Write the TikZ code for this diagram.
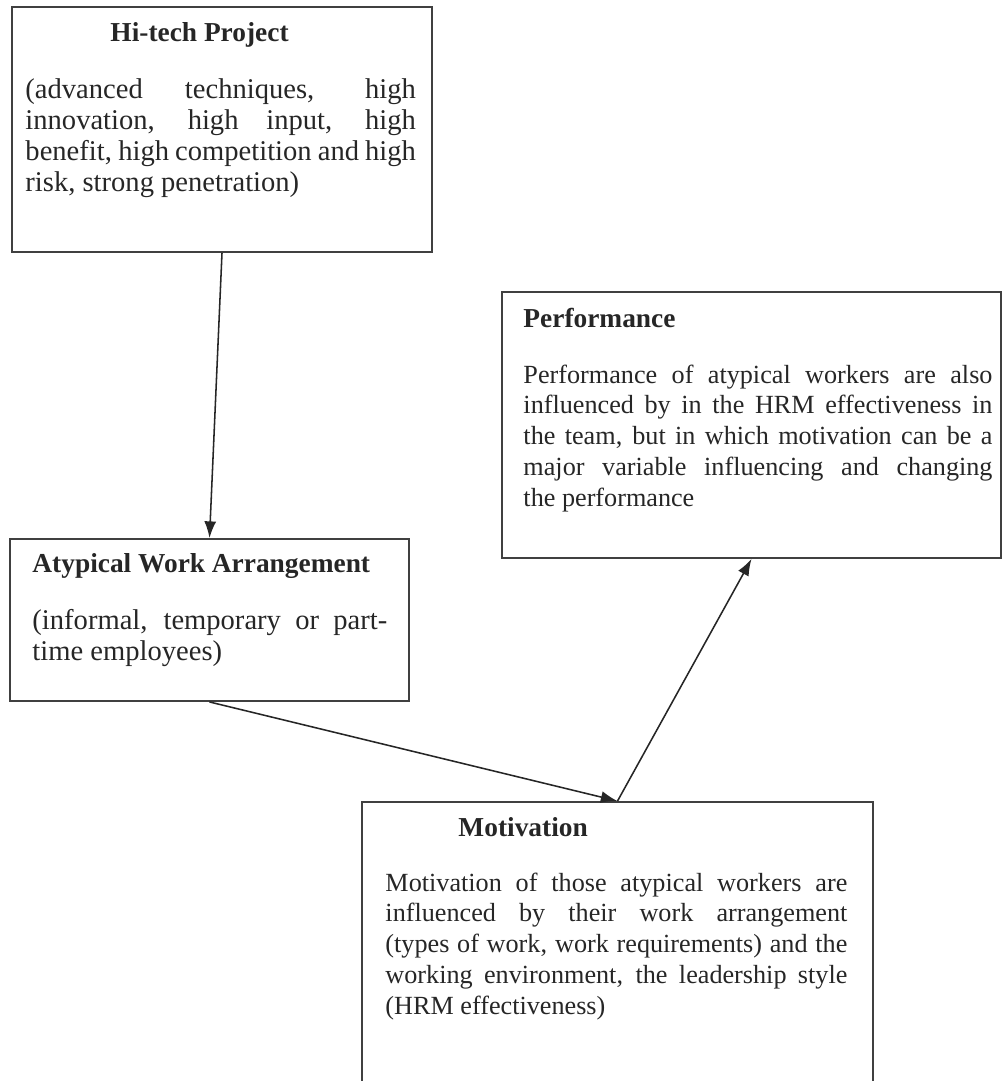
\documentclass[tikz,border=0pt]{standalone}
\usepackage{fontspec}
\setmainfont{Liberation Serif}
\usetikzlibrary{arrows.meta, fit}

\tikzset{
  box/.style={draw=black!75, line width=0.8pt, inner sep=0pt},
  head/.style={anchor=base west, inner sep=0pt, text=black!85, font=\fontsize{11.5}{13}\selectfont\bfseries},
  body/.style={anchor=base west, inner sep=0pt, text=black!85, align=justify},
  arr/.style={-{Latex[length=7pt, width=5pt]}, line width=0.65pt, black!85}
}

\begin{document}
\begin{tikzpicture}[x=0.42pt, y=-0.42pt]
\useasboundingbox (0,0) rectangle (1003,1081);
\clip (0,0) rectangle (1003,1081);
% boxes
\node[box, fit={(12,7) (432,252)}] (hitech) {};
\node[box, fit={(502,292) (1001,558)}] (perf) {};
\node[box, fit={(10,539) (409,701)}] (atyp) {};
\node[box, fit={(362,802) (873,1130)}] (motiv) {};
% texts
\node[head] (hitechhead) at (110,42) {Hi-tech Project};
\node[body, text width=164pt, font=\fontsize{12}{13}\selectfont] (hitechtext) at (25,99)
  {(advanced techniques, high\linebreak innovation, high input, high\linebreak benefit, high competition and high\linebreak risk, strong penetration)};
\node[head] (perfhead) at (523,327) {Performance};
\node[body, text width=197pt, font=\fontsize{11}{13}\selectfont] (perftext) at (523,383)
  {Performance of atypical workers are also\linebreak influenced by in the HRM effectiveness in\linebreak the team, but in which motivation can be a\linebreak major variable influencing and changing\linebreak the performance};
\node[head] (atyphead) at (32,572) {Atypical Work Arrangement};
\node[body, text width=149pt, font=\fontsize{12}{13.4}\selectfont] (atyptext) at (32,629)
  {(informal, temporary or part-\linebreak time employees)};
\node[head] (motivhead) at (458,836) {Motivation};
\node[body, text width=194pt, font=\fontsize{11}{13}\selectfont] (motivtext) at (385,891)
  {Motivation of those atypical workers are\linebreak influenced by their work arrangement\linebreak (types of work, work requirements) and the\linebreak working environment, the leadership style\linebreak (HRM effectiveness)};
% arrows
\draw[arr] (hitech.south) -- (atyp.north);
\draw[arr] (atyp.south) -- (motiv.north);
\draw[arr] (motiv.north) -- (perf.south);
\end{tikzpicture}
\end{document}
